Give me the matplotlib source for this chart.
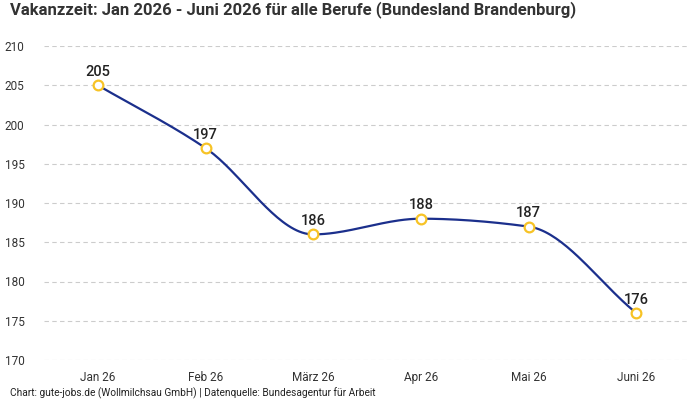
import matplotlib
matplotlib.use('Agg')
import matplotlib.pyplot as plt
import numpy as np

monate = ['Jan 26', 'Feb 26', 'März 26', 'Apr 26', 'Mai 26', 'Juni 26']
vakanzzeit = [205, 197, 186, 188, 187, 176]
y_ticks = [170, 175, 180, 185, 190, 195, 200, 205, 210]

plt.rcParams['font.family'] = ['Roboto', 'DejaVu Sans']


# monotone kubische Interpolation (nur fuer die geglaettete Linie)
def monotone_curve(x, y, n=40):
	x = np.asarray(x, float)
	y = np.asarray(y, float)
	h = np.diff(x)
	d = np.diff(y) / h
	m = np.zeros_like(y)
	m[0] = d[0]
	m[-1] = d[-1]
	for i in range(1, len(y) - 1):
		if d[i - 1] * d[i] <= 0:
			m[i] = 0
		else:
			w1 = 2 * h[i] + h[i - 1]
			w2 = h[i] + 2 * h[i - 1]
			m[i] = (w1 + w2) / (w1 / d[i - 1] + w2 / d[i])
	xs, ys = [], []
	for i in range(len(x) - 1):
		t = np.linspace(0, 1, n)
		h00 = 2 * t**3 - 3 * t**2 + 1
		h10 = t**3 - 2 * t**2 + t
		h01 = -2 * t**3 + 3 * t**2
		h11 = t**3 - t**2
		xs.extend(x[i] + t * h[i])
		ys.extend(h00 * y[i] + h10 * h[i] * m[i] + h01 * y[i + 1] + h11 * h[i] * m[i + 1])
	return xs, ys


fig = plt.figure(figsize=(7, 4), dpi=100)
ax = fig.add_axes([44 / 700, 40 / 400, 646 / 700, 314 / 400])

pos = np.arange(len(monate))
cx, cy = monotone_curve(pos, vakanzzeit)
ax.plot(cx, cy, color='#1b2f8c', lw=1.6, zorder=3)
ax.plot(pos, vakanzzeit, 'o', ms=7, mfc='white', mec='#f7c325', mew=1.6, zorder=4)

for p, v in zip(pos, vakanzzeit):
	ax.annotate(str(v), (p, v), xytext=(0, 4.5), textcoords='offset points',
				ha='center', va='bottom', fontsize=10.5, color='#222222', fontweight='medium')

ax.set_xlim(-0.5, len(monate) - 0.5)
ax.set_ylim(170, 210)
ax.set_yticks(y_ticks)
ax.set_xticks(pos)
ax.set_xticklabels(monate)
ax.tick_params(length=0, labelsize=8.5, colors='#333333')
ax.tick_params(axis='x', pad=8)
ax.tick_params(axis='y', pad=14)
ax.grid(axis='y', color='#cccccc', ls=(0, (4, 3)), lw=0.8)
for s in ax.spines.values():
	s.set_visible(False)

fig.text(10 / 700, 1 - 10 / 400, 'Vakanzzeit: Jan 2026 - Juni 2026 für alle Berufe (Bundesland Brandenburg)',
		 fontsize=12, fontweight='bold', color='#333333', va='center')
fig.text(10 / 700, 1 - 393 / 400, 'Chart: gute-jobs.de (Wollmilchsau GmbH) | Datenquelle: Bundesagentur für Arbeit',
		 fontsize=7.3, color='#222222', va='center')

fig.savefig('out.png', dpi=100)
